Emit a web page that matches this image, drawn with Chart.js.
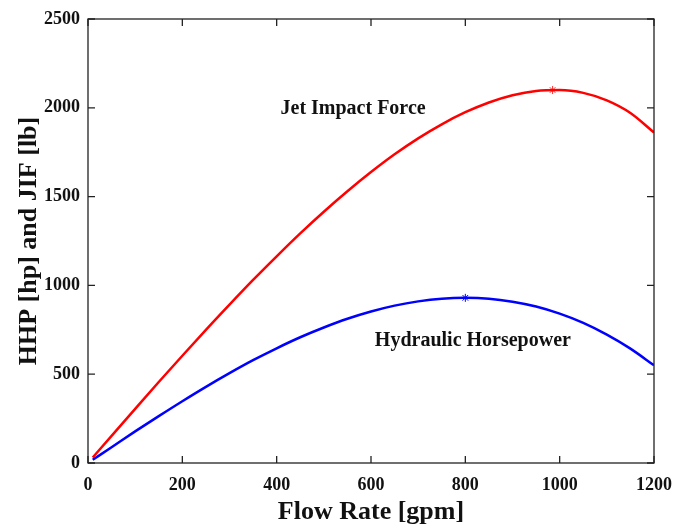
<!DOCTYPE html>
<html>
<head>
<meta charset="utf-8">
<script src="https://cdn.jsdelivr.net/npm/chart.js@4"></script>
<style>
  html, body { margin: 0; padding: 0; background: #fff; }
  #wrap { width: 673px; height: 525px; }
</style>
</head>
<body>
<div id="wrap"><canvas id="chartContainer"></canvas></div>
<script>
// flow rate [gpm]
const flowRate = [10, 50, 100, 150, 200, 250, 300, 350, 400, 450, 500, 550, 600,
  650, 700, 750, 800, 850, 900, 950, 1000, 1050, 1100, 1150, 1200];
// jet impact force [lb]
const jif = [31, 153, 305, 456, 604, 750, 892, 1031, 1164, 1293, 1415, 1530, 1638,
  1738, 1828, 1907, 1975, 2030, 2071, 2095, 2100, 2084, 2042, 1971, 1861];
// hydraulic horsepower [hp]
const hhp = [18, 89, 178, 264, 348, 429, 506, 579, 646, 708, 763, 812, 853,
  886, 910, 925, 930, 925, 908, 881, 841, 789, 723, 644, 550];
// maxima marked with a star
const jifMax = [{ x: 985, y: 2100 }];
const hhpMax = [{ x: 800, y: 930 }];
// curve labels
const labelsText = [
  { text: 'Jet Impact Force', x: 562, y: 1995 },
  { text: 'Hydraulic Horsepower', x: 816, y: 690 }
];
const xTicks = [0, 200, 400, 600, 800, 1000, 1200];
const yTicks = [0, 500, 1000, 1500, 2000, 2500];

const serif = '"Liberation Serif", "Times New Roman", serif';

// frame with inward ticks on all four sides
const framePlugin = {
  id: 'frame',
  afterDraw(chart) {
    const ctx = chart.ctx;
    const a = chart.chartArea;
    const xs = chart.scales.x, ys = chart.scales.y;
    ctx.save();
    ctx.strokeStyle = '#222';
    ctx.lineWidth = 1.3;
    ctx.strokeRect(a.left, a.top, a.right - a.left, a.bottom - a.top);
    const t = 7;
    xTicks.forEach(v => {
      const px = xs.getPixelForValue(v);
      ctx.beginPath();
      ctx.moveTo(px, a.bottom); ctx.lineTo(px, a.bottom - t);
      ctx.moveTo(px, a.top); ctx.lineTo(px, a.top + t);
      ctx.stroke();
    });
    yTicks.forEach(v => {
      const py = ys.getPixelForValue(v);
      ctx.beginPath();
      ctx.moveTo(a.left, py); ctx.lineTo(a.left + t, py);
      ctx.moveTo(a.right, py); ctx.lineTo(a.right - t, py);
      ctx.stroke();
    });
    // curve labels
    ctx.fillStyle = '#111';
    ctx.font = 'bold 20px ' + serif;
    ctx.textAlign = 'center';
    ctx.textBaseline = 'middle';
    labelsText.forEach(l => {
      ctx.fillText(l.text, xs.getPixelForValue(l.x), ys.getPixelForValue(l.y));
    });
    ctx.restore();
  }
};

document.addEventListener('DOMContentLoaded', function() {
  const canvas = document.getElementById('chartContainer');
  new Chart(canvas, {
    type: 'line',
    data: {
      datasets: [
        {
          label: 'JIF',
          data: flowRate.map((q, i) => ({ x: q, y: jif[i] })),
          borderColor: '#ff0000',
          borderWidth: 2.5,
          pointRadius: 0,
          fill: false,
          cubicInterpolationMode: 'monotone'
        },
        {
          label: 'HHP',
          data: flowRate.map((q, i) => ({ x: q, y: hhp[i] })),
          borderColor: '#0000ff',
          borderWidth: 2.5,
          pointRadius: 0,
          fill: false,
          cubicInterpolationMode: 'monotone'
        },
        {
          label: 'JIF max',
          data: jifMax,
          showLine: false,
          pointStyle: 'star',
          pointRadius: 4,
          borderColor: '#ff3030',
          borderWidth: 1
        },
        {
          label: 'HHP max',
          data: hhpMax,
          showLine: false,
          pointStyle: 'star',
          pointRadius: 4,
          borderColor: '#0000ff',
          borderWidth: 1
        }
      ]
    },
    options: {
      responsive: true,
      maintainAspectRatio: false,
      animation: false,
      layout: { padding: { left: 14, right: 19, top: 19, bottom: 0 } },
      plugins: {
        legend: { display: false },
        tooltip: { enabled: false }
      },
      scales: {
        x: {
          type: 'linear',
          min: 0,
          max: 1200,
          afterBuildTicks: s => { s.ticks = xTicks.map(v => ({ value: v })); },
          afterFit: s => {
            s.height = 62;
            s.paddingLeft = 0;
            s.paddingRight = 0;
          },
          grid: { display: false, drawTicks: false },
          border: { display: false },
          ticks: {
            color: '#111',
            padding: 12,
            maxRotation: 0,
            callback: v => String(v),
            font: { family: serif, size: 18, weight: 'bold' }
          },
          title: {
            display: true,
            text: 'Flow Rate [gpm]',
            color: '#111',
            padding: { top: 0, bottom: 0 },
            font: { family: serif, size: 26, weight: 'bold', lineHeight: 1.0 }
          }
        },
        y: {
          min: 0,
          max: 2500,
          afterBuildTicks: s => { s.ticks = yTicks.map(v => ({ value: v })); },
          afterFit: s => {
            s.width = 74;
            s.paddingTop = 0;
            s.paddingBottom = 0;
          },
          grid: { display: false, drawTicks: false },
          border: { display: false },
          ticks: {
            color: '#111',
            padding: 8,
            callback: v => String(v),
            font: { family: serif, size: 18, weight: 'bold' }
          },
          title: {
            display: true,
            text: 'HHP [hp] and JIF [lb]',
            color: '#111',
            padding: 0,
            font: { family: serif, size: 26, weight: 'bold' }
          }
        }
      }
    },
    plugins: [framePlugin]
  });
});
</script>
</body>
</html>
